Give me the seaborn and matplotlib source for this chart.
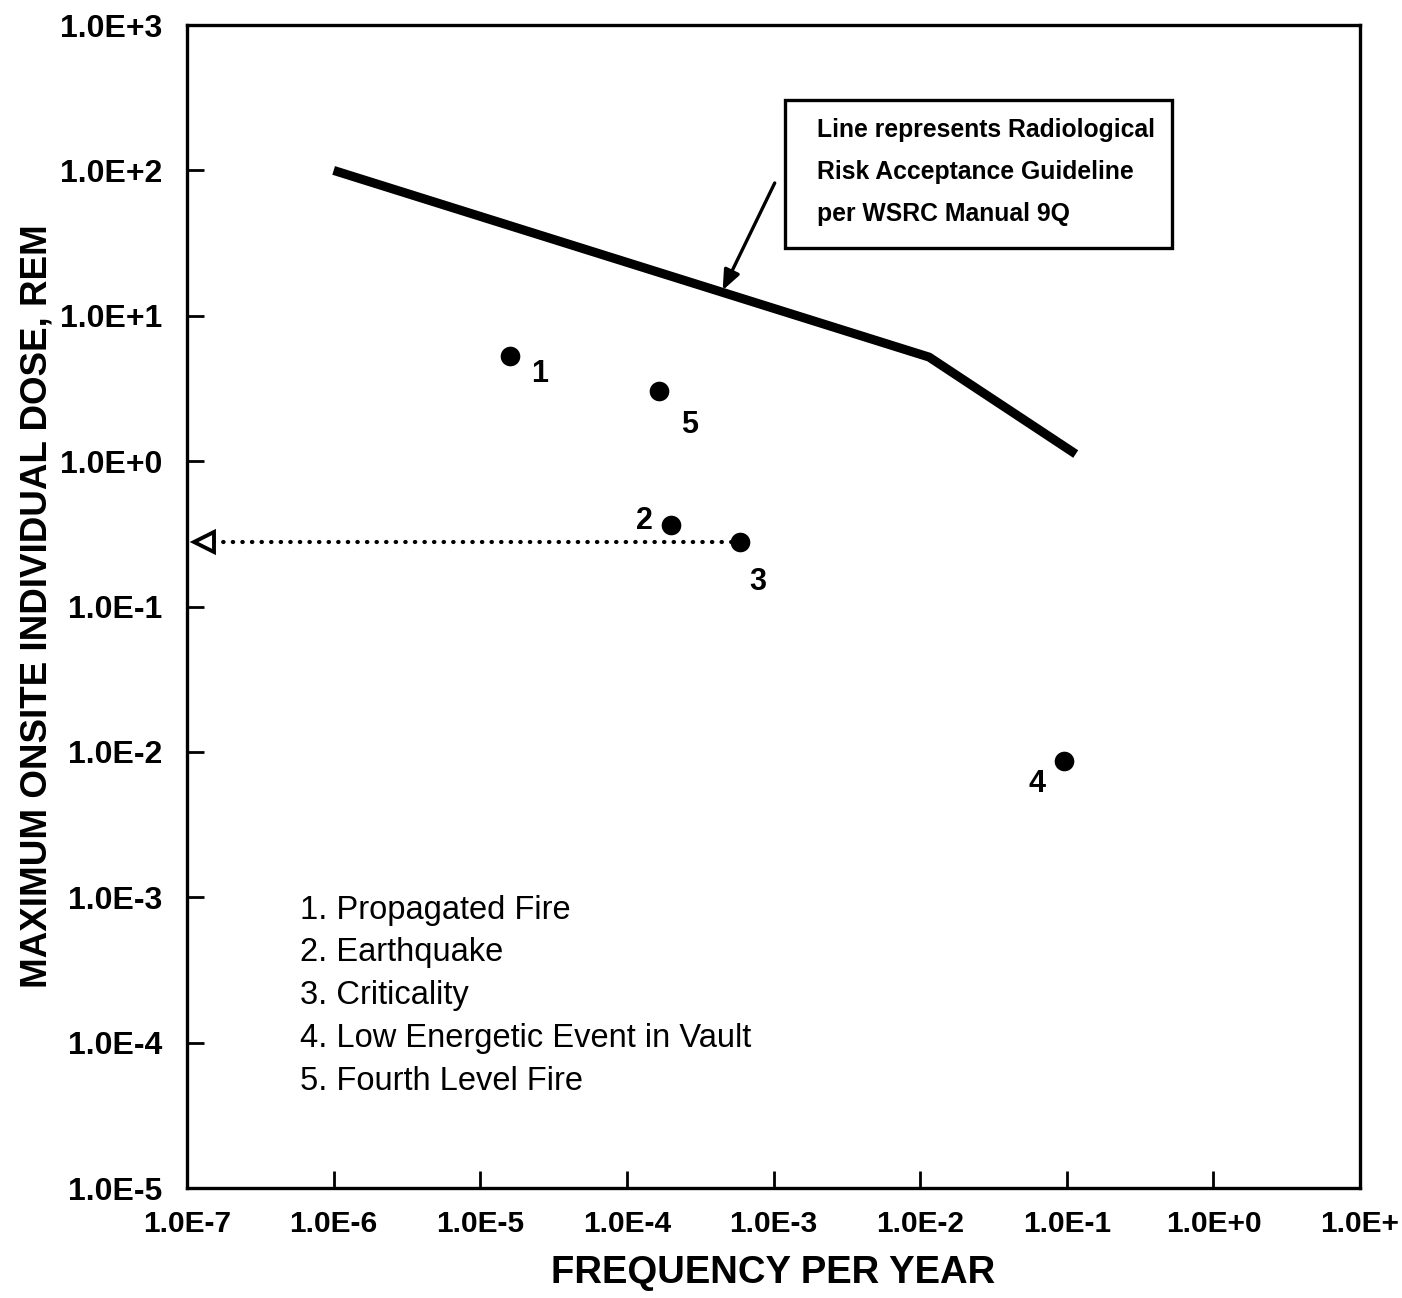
import numpy as np
import pandas as pd
import matplotlib
matplotlib.use("Agg")
import matplotlib.pyplot as plt
import matplotlib.patches as patches
import seaborn as sns

# risk acceptance guideline (frequency per year vs dose, rem)
guide_freq = [1.0e-6, 1.15e-2, 1.15e-1]
guide_dose = [100.0, 5.2, 1.12]

# accident scenarios
event_ids = ["1", "2", "3", "4", "5"]
event_names = ["Propagated Fire", "Earthquake", "Criticality",
               "Low Energetic Event in Vault", "Fourth Level Fire"]
event_freq = [1.6e-5, 2.0e-4, 5.9e-4, 9.5e-2, 1.66e-4]
event_dose = [5.3, 0.365, 0.279, 0.0087, 3.06]

# dotted arrow from event 3 back to the dose axis
arrow_tip_freq = 1.3e-7

x_ticks = [1e-7, 1e-6, 1e-5, 1e-4, 1e-3, 1e-2, 1e-1, 1e0, 1e1]
x_tick_labels = ["1.0E-7", "1.0E-6", "1.0E-5", "1.0E-4", "1.0E-3",
                 "1.0E-2", "1.0E-1", "1.0E+0", "1.0E+"]
y_ticks = [1e-5, 1e-4, 1e-3, 1e-2, 1e-1, 1e0, 1e1, 1e2, 1e3]
y_tick_labels = ["1.0E-5", "1.0E-4", "1.0E-3", "1.0E-2", "1.0E-1",
                 "1.0E+0", "1.0E+1", "1.0E+2", "1.0E+3"]

sns.set_style("white")
plt.rcParams["font.family"] = ["Liberation Sans", "DejaVu Sans"]
plt.rcParams["text.color"] = "black"
plt.rcParams["axes.labelcolor"] = "black"

fig = plt.figure(figsize=(14.02, 12.98), dpi=100)
ax = fig.add_axes([0.1334, 0.0847, 0.8367, 0.896])

guide = pd.DataFrame({"freq": guide_freq, "dose": guide_dose})
events = pd.DataFrame({"id": event_ids, "freq": event_freq, "dose": event_dose})

sns.lineplot(data=guide, x="freq", y="dose", ax=ax, color="black",
             linewidth=6.5, solid_capstyle="butt", solid_joinstyle="miter")
sns.scatterplot(data=events, x="freq", y="dose", ax=ax, color="black",
                s=200, edgecolor="black", linewidth=0, zorder=5)

ax.set_xscale("log")
ax.set_yscale("log")
ax.set_xlim(1e-7, 1e1)
ax.set_ylim(1e-5, 1e3)

# number labels next to the points (offsets in points)
offsets = {"1": (21, -13), "2": (-19, 3), "3": (13, -29), "4": (-19, -17), "5": (22, -25)}
for eid, fx, dy in zip(event_ids, event_freq, event_dose):
    ax.annotate(eid, (fx, dy), xytext=offsets[eid], textcoords="offset points",
                ha="center", va="center", fontsize=22, fontweight="bold",
                color="black")

# dotted arrow from criticality point to the axis
crit = event_ids.index("3")
ax.plot([arrow_tip_freq, event_freq[crit]], [event_dose[crit], event_dose[crit]],
        color="black", linewidth=3.0, linestyle=(0, (0.1, 2.2)),
        dash_capstyle="round", zorder=3)
ax.plot([arrow_tip_freq], [event_dose[crit]], marker="<", markersize=14,
        markerfacecolor="white", markeredgecolor="black", markeredgewidth=2.8,
        zorder=4)

# annotation box
ax.add_patch(patches.Rectangle((0.510, 0.808), 0.330, 0.1275,
                               transform=ax.transAxes, fill=False,
                               edgecolor="black", linewidth=2.4))
box_lines = ["Line represents Radiological",
             "Risk Acceptance Guideline",
             "per WSRC Manual 9Q"]
for i, line in enumerate(box_lines):
    ax.text(0.537, 0.9097 - i * 0.0361, line, transform=ax.transAxes,
            ha="left", va="center", fontsize=17.8, fontweight="bold",
            color="black")
ax.annotate("", xy=(4.5e-4, 15.0), xycoords="data",
            xytext=(0.501, 0.8642), textcoords="axes fraction",
            arrowprops=dict(arrowstyle="-|>,head_length=1.2,head_width=0.5",
                            color="black", linewidth=2.4, shrinkA=0, shrinkB=0))

# event key
for i, (eid, name) in enumerate(zip(event_ids, event_names)):
    ax.text(0.0963, 0.239 - i * 0.0368, f"{eid}. {name}", transform=ax.transAxes,
            ha="left", va="center", fontsize=23.5, color="black")

ax.set_xticks(x_ticks)
ax.set_xticklabels(x_tick_labels)
ax.set_yticks(y_ticks)
ax.set_yticklabels(y_tick_labels)
ax.minorticks_off()
ax.tick_params(axis="both", which="major", direction="in", length=12, width=2,
               colors="black", bottom=True, left=True, top=False, right=False)
ax.tick_params(axis="x", pad=16, labelsize=21.5)
ax.tick_params(axis="y", pad=18, labelsize=23)
for lab in ax.get_xticklabels() + ax.get_yticklabels():
    lab.set_fontweight("bold")

for side in ["left", "right", "top", "bottom"]:
    ax.spines[side].set_visible(True)
    ax.spines[side].set_color("black")
    ax.spines[side].set_linewidth(2.4)

ax.set_xlabel("FREQUENCY PER YEAR", fontsize=27.5, fontweight="bold",
              labelpad=12, color="black")
ax.set_ylabel("MAXIMUM ONSITE INDIVIDUAL DOSE, REM", fontsize=26.5,
              fontweight="bold", labelpad=4, color="black")

fig.savefig("out.png", dpi=100)
